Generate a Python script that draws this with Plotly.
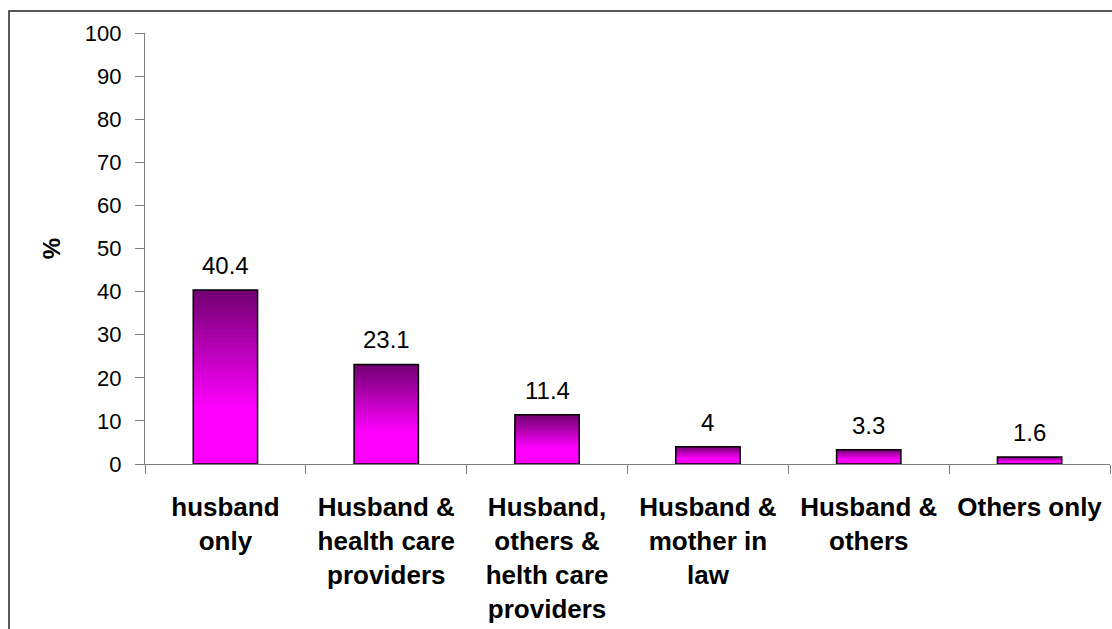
import plotly.graph_objects as go

categories = ["<b>husband<br>only</b>",
              "<b>Husband &<br>health care<br>providers</b>",
              "<b>Husband,<br>others &<br>helth care<br>providers</b>",
              "<b>Husband &<br>mother in<br>law</b>",
              "<b>Husband &<br>others</b>",
              "<b>Others only</b>"]
values = [40.4, 23.1, 11.4, 4, 3.3, 1.6]
value_labels = ["40.4", "23.1", "11.4", "4", "3.3", "1.6"]
y_ticks = [0, 10, 20, 30, 40, 50, 60, 70, 80, 90, 100]

FONT = "Liberation Sans, Arial, sans-serif"
TOP = (112, 0, 112)
BOTTOM = (255, 0, 255)
N = 40

fig = go.Figure()

# gradient: overlapping bars from base 0, tallest (darkest) first
for j in range(N):
    frac = (N - j) / N            # height fraction of this layer
    f_top = 1 - (frac - 0.5 / N)  # distance from top of bar (0 = top)
    t = min(f_top / 0.68, 1.0)
    col = tuple(int(round(TOP[i] + (BOTTOM[i] - TOP[i]) * t)) for i in range(3))
    fig.add_trace(go.Bar(
        x=categories, y=[v * frac for v in values],
        marker=dict(color="rgb(%d,%d,%d)" % col, line=dict(width=0)),
        width=0.4, showlegend=False, hoverinfo="skip"))

# outline
fig.add_trace(go.Bar(
    x=categories, y=values,
    marker=dict(color="rgba(0,0,0,0)", line=dict(color="#000000", width=1.5)),
    width=0.4, showlegend=False, name="%"))

for c, v, lab in zip(categories, values, value_labels):
    fig.add_annotation(x=c, y=v, text=lab, showarrow=False, yanchor="bottom",
                       yshift=9, font=dict(family=FONT, size=24, color="#000000"))

fig.update_layout(
    barmode="overlay",
    width=1112, height=629,
    margin=dict(l=145, r=2, t=33, b=165),
    paper_bgcolor="white", plot_bgcolor="white",
    font=dict(family=FONT, color="#000000"),
    xaxis=dict(
        type="category", showgrid=False, showline=True, linecolor="#7f7f7f", linewidth=1.2,
        ticks="outside", tickson="boundaries", ticklen=9, tickcolor="#7f7f7f",
        tickfont=dict(family=FONT, size=26, color="#000000"),
        ticklabelstandoff=20,
    ),
    yaxis=dict(
        range=[0, 100], tickvals=y_ticks, showgrid=False, zeroline=False,
        showline=True, linecolor="#7f7f7f", linewidth=1.2,
        ticks="outside", ticklen=9, tickcolor="#7f7f7f",
        tickfont=dict(family=FONT, size=22, color="#000000"),
        ticklabelstandoff=9,
        title=dict(text="<b>%</b>", font=dict(family=FONT, size=24), standoff=17),
    ),
    shapes=[dict(type="rect", xref="paper", yref="paper",
                 x0=(9 - 145) / 965, x1=1.5, y0=-1.0, y1=1 + (33 - 11) / 431,
                 line=dict(color="#222222", width=1.5), fillcolor="rgba(0,0,0,0)")],
)

fig.write_html("out.html", config={"displayModeBar": False},
               post_script="document.body.style.margin='0';")
